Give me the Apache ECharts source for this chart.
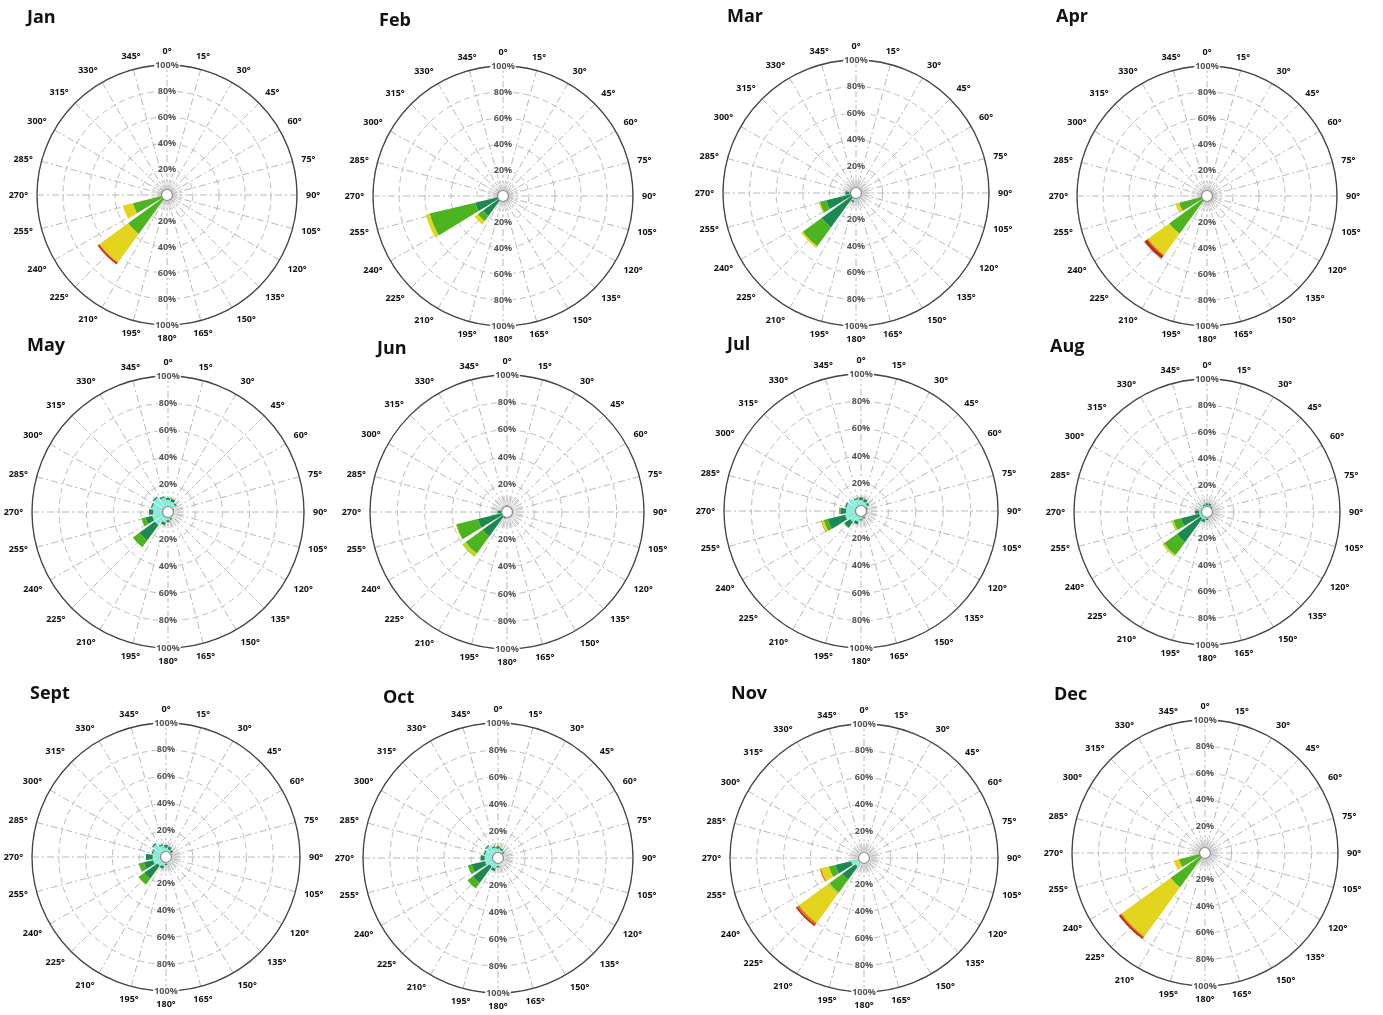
<!DOCTYPE html>
<html><head><meta charset="utf-8">
<script src="https://cdn.jsdelivr.net/npm/echarts@6/dist/echarts.min.js"></script>
<style>html,body{margin:0;padding:0;background:#fff}#c{width:1383px;height:1015px}</style>
</head><body><div id="c"></div>
<script>
// ---------- DATA ----------
const directions = [0, 22.5, 45, 67.5, 90, 112.5, 135, 157.5, 180, 202.5, 225, 247.5, 270, 292.5, 315, 337.5];
const monthNames = ['Jan','Feb','Mar','Apr','May','Jun','Jul','Aug','Sept','Oct','Nov','Dec'];
const speedClasses = ['class 1','class 2','class 3','class 4','class 5','class 6','class 7'];
const ringTicks = [20, 40, 60, 80, 100];
// rows: [direction, class1 .. class7] in % frequency
const jan = [
  [225, 0, 2, 35, 0, 27, 0.7, 1.3],
  [247.5, 0, 2, 25, 0, 8, 0, 0],
  [270, 0, 1, 1, 0, 0, 0, 0]
];
const feb = [
  [225, 0, 19, 5, 0, 3, 0, 0],
  [247.5, 0, 22, 36, 0, 3, 0, 0],
  [270, 0, 2, 0, 0, 0, 0, 0]
];
const mar = [
  [0, 3, 0], [22.5, 3, 0], [45, 2, 0], [67.5, 2, 0], [90, 2, 0], [112.5, 2, 0], [135, 3, 0],
  [157.5, 5, 0], [180, 6, 0], [202.5, 6, 1],
  [225, 3, 29, 17.5, 0, 1.5, 0, 0],
  [247.5, 3, 20, 5, 0, 1, 0, 0],
  [270, 5, 3], [292.5, 5, 0], [315, 5, 0], [337.5, 4, 0]
];
const apr = [
  [202.5, 0, 1, 0],
  [225, 0, 2, 34, 0, 20, 1, 2.5],
  [247.5, 0, 2, 20, 0, 3, 0, 0],
  [270, 0, 3, 0]
];
const may = [
  [0, 9, 1.5], [22.5, 8, 2], [45, 7, 1], [67.5, 4, 0.5], [90, 4, 0], [112.5, 3, 0], [135, 4, 0],
  [157.5, 5, 1], [180, 6, 1.5], [202.5, 8, 2],
  [225, 12, 14, 6, 0, 0, 0, 0],
  [247.5, 12, 5, 3, 0, 0, 0, 0],
  [270, 11, 3], [292.5, 12, 1], [315, 13, 1], [337.5, 11, 1]
];
const jun = [
  [0, 3, 1.5], [22.5, 3, 1], [45, 2, 1], [67.5, 2, 0], [90, 2, 0], [112.5, 2, 0], [135, 2, 0],
  [157.5, 2, 0], [180, 3, 0], [202.5, 3, 2],
  [225, 3, 19, 15.5, 3, 0, 0, 0],
  [247.5, 3, 19, 16, 0.5, 0, 0, 0],
  [270, 3, 4], [292.5, 2, 0], [315, 2, 0], [337.5, 2, 1]
];
const jul = [
  [0, 8, 2], [22.5, 7, 2], [45, 6, 1.5], [67.5, 4, 1], [90, 3, 0], [112.5, 3, 0], [135, 4, 0],
  [157.5, 5, 1], [180, 6, 1], [202.5, 8, 2],
  [225, 10, 5, 0.5, 0, 0, 0, 0],
  [247.5, 12, 13, 3, 0, 1.5, 0.5, 0],
  [270, 11, 4, 1], [292.5, 11, 1], [315, 11, 0], [337.5, 9, 1]
];
const aug = [
  [0, 5, 1.5], [22.5, 5, 1.5], [45, 4, 1], [67.5, 3, 0], [90, 3, 0], [112.5, 3, 0], [135, 3, 0],
  [157.5, 4, 0], [180, 5, 1], [202.5, 6, 2],
  [225, 6, 22, 12, 1.5, 0, 0, 0],
  [247.5, 6, 14, 6, 1.5, 0, 0, 0],
  [270, 6, 3], [292.5, 6, 0], [315, 6, 0], [337.5, 5, 1]
];
const sep = [
  [0, 7, 2], [22.5, 6, 2], [45, 5, 1.5], [67.5, 4, 0.5], [90, 3, 0], [112.5, 3, 0], [135, 3, 0],
  [157.5, 4, 0], [180, 5, 1], [202.5, 7, 2],
  [225, 8, 12, 5.5, 0, 0, 0, 0],
  [247.5, 10, 7, 4, 0, 0, 0, 0],
  [270, 10, 5], [292.5, 10, 1], [315, 12, 1], [337.5, 9, 1]
];
const oct = [
  [0, 7, 1.5], [22.5, 6, 1.5], [45, 5, 1], [67.5, 4, 0], [90, 3, 0], [112.5, 3, 0], [135, 3, 0],
  [157.5, 4, 0], [180, 6, 1], [202.5, 8, 2],
  [225, 8, 15, 5, 0, 0, 0, 0],
  [247.5, 10, 10, 3, 0, 0, 0, 0],
  [270, 10, 3], [292.5, 10, 1], [315, 11, 1], [337.5, 8, 1]
];
const nov = [
  [202.5, 2, 1], [270, 3, 1], [292.5, 2, 0],
  [225, 8, 12, 12, 2, 26, 1.5, 1.5],
  [247.5, 10, 12, 5, 0, 6, 1, 0]
];
const dec = [
  [202.5, 0, 1, 0],
  [225, 0, 2, 30, 0, 45.5, 1, 1.5],
  [247.5, 0, 2, 18, 0, 4, 0, 0],
  [270, 0, 1, 0]
];
const roses = [jan, feb, mar, apr, may, jun, jul, aug, sep, oct, nov, dec];

// ---------- LAYOUT / STYLE ----------
const panels = [
  {c: [167, 195], r: 130, t: [27, 9]},
  {c: [503, 196], r: 130, t: [379, 12]},
  {c: [856, 193], r: 133, t: [727, 8]},
  {c: [1207, 196], r: 130, t: [1056, 8]},
  {c: [168, 512], r: 136, t: [27, 337]},
  {c: [507, 512], r: 137, t: [377, 340]},
  {c: [861, 511], r: 137, t: [727, 336]},
  {c: [1207, 512], r: 133, t: [1050, 338]},
  {c: [166, 857], r: 134, t: [30, 685]},
  {c: [498, 858], r: 135, t: [383, 689]},
  {c: [864, 858], r: 134, t: [731, 685]},
  {c: [1205, 853], r: 133, t: [1054, 686]}
];
const classColors = ['#7eefda', '#1c8a50', '#4cb41f', '#bcd62c', '#e3d41e', '#e07a12', '#b9300d'];
const FONT = 'Open Sans';

const option = {
  animation: false,
  backgroundColor: '#fff',
  title: [], polar: [], angleAxis: [], radiusAxis: [], series: []
};

roses.forEach((rows, i) => {
  const p = panels[i];
  option.title.push({
    text: monthNames[i], left: p.t[0], top: p.t[1], padding: 0,
    textStyle: {fontFamily: FONT, fontSize: 18, fontWeight: 'bold', color: '#111'}
  });
  const base = option.polar.length;
  // grid polar
  option.polar.push({center: p.c, radius: [0, p.r]});
  option.angleAxis.push({
    polarIndex: base, type: 'value', min: 0, max: 360, interval: 15,
    startAngle: 90, clockwise: true,
    axisLine: {show: true, lineStyle: {color: '#444', width: 1.3}},
    axisTick: {show: false},
    axisLabel: {show: true, margin: 9, fontSize: 9, fontWeight: 'bold', color: '#111', fontFamily: FONT,
      formatter: v => v >= 360 ? '' : v + '°'},
    splitLine: {show: true, lineStyle: {color: '#b8b8b8', width: 1, type: [7, 3, 2, 3]}}
  });
  option.radiusAxis.push({
    polarIndex: base, type: 'value', min: 0, max: 100, interval: 20,
    axisLine: {show: false}, axisTick: {show: false},
    axisLabel: {show: true, margin: 0, align: 'center', verticalAlign: 'middle',
      fontSize: 9, fontWeight: 'bold', color: '#555', fontFamily: FONT,
      backgroundColor: '#fff', padding: [0, 1],
      formatter: v => ringTicks.includes(v) ? v + '%' : ''},
    splitLine: {show: true, lineStyle: {color: '#bdbdbd', width: 1, type: [6, 4]}}
  });
  // bars polar
  option.polar.push({center: p.c, radius: [0, p.r]});
  option.angleAxis.push({
    polarIndex: base + 1, type: 'category', data: directions, boundaryGap: true,
    startAngle: 90 + 11.25, clockwise: true,
    axisLine: {show: false}, axisTick: {show: false}, axisLabel: {show: false}, splitLine: {show: false}
  });
  option.radiusAxis.push({polarIndex: base + 1, type: 'value', min: 0, max: 100, show: false});
  // lower labels polar
  option.polar.push({center: p.c, radius: [0, p.r]});
  option.angleAxis.push({
    polarIndex: base + 2, type: 'value', min: 0, max: 360, startAngle: 270, clockwise: true,
    axisLine: {show: false}, axisTick: {show: false}, axisLabel: {show: false}, splitLine: {show: false}
  });
  option.radiusAxis.push({
    polarIndex: base + 2, type: 'value', min: 0, max: 100, interval: 20,
    axisLine: {show: false}, axisTick: {show: false}, splitLine: {show: false},
    axisLabel: {show: true, margin: 0, align: 'center', verticalAlign: 'middle',
      fontSize: 9, fontWeight: 'bold', color: '#555', fontFamily: FONT,
      backgroundColor: '#fff', padding: [0, 1],
      formatter: v => ringTicks.includes(v) ? v + '%' : ''}
  });
  // tick ring around the calm circle
  option.polar.push({center: p.c, radius: [6, 16]});
  option.angleAxis.push({
    polarIndex: base + 3, type: 'value', min: 0, max: 360, interval: 10, startAngle: 90,
    axisLine: {show: false}, axisTick: {show: false}, axisLabel: {show: false},
    splitLine: {show: true, lineStyle: {color: '#c4c4c4', width: 0.8, type: 'solid'}}
  });
  option.radiusAxis.push({polarIndex: base + 3, type: 'value', show: false});

  // stacked bars
  speedClasses.forEach((name, k) => {
    const values = directions.map(d => {
      const row = rows.find(r => r[0] === d);
      return row && row[k + 1] ? row[k + 1] : 0;
    });
    option.series.push({
      type: 'bar', name: name, coordinateSystem: 'polar', polarIndex: base + 1,
      stack: 'm' + i, data: values, barCategoryGap: '20%', z: 3, silent: true,
      itemStyle: {color: classColors[k]}
    });
  });
  // calm centre circle
  option.series.push({
    type: 'pie', center: p.c, radius: [0, 5.5], silent: true, z: 10,
    label: {show: false}, labelLine: {show: false},
    data: [{value: 1, itemStyle: {color: '#fff', borderColor: '#888', borderWidth: 1.2}}]
  });
});

const chart = echarts.init(document.getElementById('c'), null, {renderer: 'canvas'});
chart.setOption(option);
</script></body></html>
